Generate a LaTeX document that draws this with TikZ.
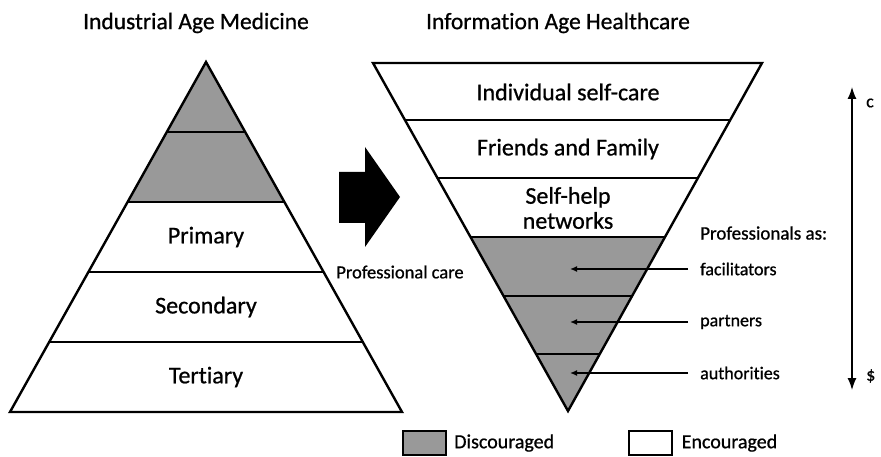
\documentclass[tikz,border=0pt]{standalone}
\usepackage{fontspec}
\setmainfont{Carlito}[Ligatures=NoCommon, FakeBold=0.8]
\usetikzlibrary{arrows.meta,positioning}
\definecolor{discgray}{RGB}{153,153,153}

\begin{document}
\begin{tikzpicture}[
			x=1pt, y=-1pt,
			tier/.style={line width=2.4pt, line join=miter},
			layer/.style={font=\fontsize{24}{26}\selectfont, align=center},
			heading/.style={font=\fontsize{23.5}{26}\selectfont},
			role/.style={font=\fontsize{18}{21}\selectfont, anchor=west, inner xsep=12pt},
			pointer/.style={-{Latex[length=7pt,width=6pt]}, line width=1.3pt},
			legbox/.style={draw, line width=1.4pt, minimum width=43pt, minimum height=24pt, inner sep=0pt},
			legtext/.style={font=\fontsize{20}{24}\selectfont}]
		\useasboundingbox (0,0) rectangle (881,457);

		% titles
		\node[heading] (oldtitle) at (196,23) {Industrial Age Medicine};
		\node[heading] (newtitle) at (558,23) {Information Age Healthcare};

		% industrial pyramid
		\coordinate (Ltop) at (206,62);
		\coordinate (Lbl)  at (10,412);
		\coordinate (Lbr)  at (402,412);
		\begin{scope}
			\clip (Ltop) -- (Lbr) -- (Lbl) -- cycle;
			\fill[discgray] (0,50) rectangle (450,202);
			\foreach \y in {132,202,272,342}
				\draw[tier] (0,\y) -- (450,\y);
		\end{scope}
		\draw[tier] (Ltop) -- (Lbr) -- (Lbl) -- cycle;
		\node[layer] (primary)   at (206,237) {Primary};
		\node[layer] (secondary) at (206,307) {Secondary};
		\node[layer] (tertiary)  at (206,377) {Tertiary};

		% shift arrow
		\fill (339,172) -- (365,172) -- (365,147) -- (400,197) -- (365,247)
			-- (365,223) -- (339,223) -- cycle;
		\node[font=\fontsize{18.5}{21}\selectfont] (profcare) at (400,272) {Professional care};

		% information age funnel
		\coordinate (Rtl)  at (373,63);
		\coordinate (Rtr)  at (762,63);
		\coordinate (Rbot) at (568,411);
		\begin{scope}
			\clip (Rtl) -- (Rtr) -- (Rbot) -- cycle;
			\fill[discgray] (360,237) rectangle (780,420);
			\foreach \y in {120,178,237,296,354}
				\draw[tier] (360,\y) -- (780,\y);
		\end{scope}
		\draw[tier] (Rtl) -- (Rtr) -- (Rbot) -- cycle;
		\node[layer] (selfcare) at (568,92)  {Individual self-care};
		\node[layer] (friends)  at (568,149) {Friends and Family};
		\node[layer, font=\fontsize{24}{25}\selectfont] (selfhelp) at (568,208) {Self-help\\networks};

		% professionals
		\node[role, inner xsep=0pt, font=\fontsize{19}{21}\selectfont] (profs) at (700,233) {Professionals as:};
		\foreach \name/\txt/\y in {fac/facilitators/269, part/partners/322, auth/authorities/373} {
			\node[role] (\name) at (688,\y) {\txt};
			\coordinate (\name tip) at (570,\y);
			\draw[pointer] (\name.west) -- (\name tip);
		}

		% cost scale
		\coordinate (costtop) at (852,87);
		\coordinate (costbot) at (852,390);
		\draw[{Latex[length=12pt,width=9pt]}-{Latex[length=12pt,width=9pt]}, line width=1.3pt] (costtop) -- (costbot);
		\node[role, inner xsep=0pt] (cheap) at (866,103) {c};
		\node[role, inner xsep=0pt] (dear)  at (866,376) {\$};

		% legend
		\node[legbox, fill=discgray] (discbox) at (424.5,443) {};
		\node[legtext, right=4pt of discbox] (disc) {Discouraged};
		\node[legbox, fill=white] (encbox) at (650.5,443) {};
		\node[legtext, right=5.5pt of encbox] (enc) {Encouraged};
	\end{tikzpicture}
\end{document}
